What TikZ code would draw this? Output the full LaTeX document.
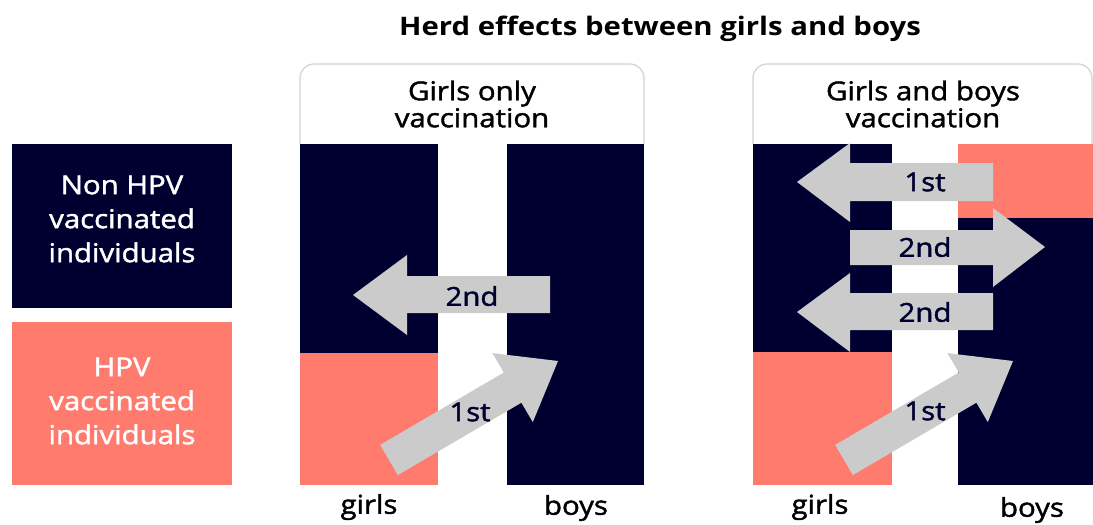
\documentclass[tikz,border=0pt]{standalone}
\usepackage{fontspec}
\setmainfont{Open Sans}[FakeStretch=1.15]
\newfontfamily\semifont{Open Sans}[FakeStretch=1.13, FakeBold=1.6]
\definecolor{navy}{HTML}{000030}
\definecolor{salmon}{HTML}{FF7B6E}
\definecolor{arrowgray}{HTML}{CBCBCB}
\definecolor{framegray}{HTML}{D2D2D2}
\begin{document}
\begin{tikzpicture}[x=1pt,y=-1pt,
  legendtext/.style={text=white,align=center,font=\semifont\fontsize{26}{34}\selectfont},
  paneltitle/.style={text=black,align=center,font=\semifont\fontsize{26}{27}\selectfont},
  arrowlabel/.style={text=navy,font=\semifont\fontsize{26}{30}\selectfont},
  axislabel/.style={text=black,font=\semifont\fontsize{26}{30}\selectfont},
  bararrow/.style={fill=arrowgray},
  panelframe/.style={draw=framegray,line width=1.2pt,rounded corners=14pt}]
\useasboundingbox (0,0) rectangle (1093,525);
\fill[white] (0,0) rectangle (1093,525);

% title
\node[font=\bfseries\fontsize{25.5}{30}\selectfont] (title) at (660,29) {Herd effects between girls and boys};

% legend
\fill[navy] (12,144) rectangle (232,308);
\fill[salmon] (12,322) rectangle (232,485);
\node[legendtext] (nonhpv) at (122,219) {Non HPV\\vaccinated\\individuals};
\node[legendtext] (hpv) at (122,401) {HPV\\vaccinated\\individuals};

% left panel
\draw[panelframe] (300,144) -- (300,64) -- (644,64) -- (644,144);
\node[paneltitle] (lt) at (472,104) {Girls only\\vaccination};
\fill[navy] (300,144) rectangle (438,353);
\fill[salmon] (300,353) rectangle (438,485);
\fill[navy] (507,144) rectangle (644,485);
\fill[bararrow] (550,276) -- (407,276) -- (407,255) -- (353,295) -- (407,335) -- (407,313) -- (550,313) -- cycle;
\fill[bararrow] (380.2,444.9) -- (503.8,372.5) -- (492.4,353.1) -- (558,361) -- (532.8,422.1) -- (521.4,402.7) -- (397.8,475.1) -- cycle;
\node[arrowlabel] (l2nd) at (472,296) {2nd};
\node[arrowlabel] (l1st) at (470,412) {1st};
\node[axislabel] (lgirls) at (369,507) {girls};
\node[axislabel] (lboys) at (576,508) {boys};

% right panel
\draw[panelframe] (753,144) -- (753,64) -- (1092,64) -- (1092,144);
\node[paneltitle] (rt) at (923,104) {Girls and boys\\vaccination};
\fill[navy] (753,144) rectangle (892,352);
\fill[salmon] (753,352) rectangle (892,485);
\fill[salmon] (958,144) rectangle (1093,218);
\fill[navy] (958,218) rectangle (1093,485);
\fill[bararrow] (993,163) -- (850,163) -- (850,143) -- (797,182) -- (850,222) -- (850,201) -- (993,201) -- cycle;
\fill[bararrow] (850,230) -- (993,230) -- (993,208) -- (1045,247) -- (993,287) -- (993,265) -- (850,265) -- cycle;
\fill[bararrow] (993,293) -- (850,293) -- (850,273) -- (797,312) -- (850,352) -- (850,330) -- (993,330) -- cycle;
\begin{scope}[shift={(455,0)}]
\fill[bararrow] (380.2,444.9) -- (503.8,372.5) -- (492.4,353.1) -- (558,361) -- (532.8,422.1) -- (521.4,402.7) -- (397.8,475.1) -- cycle;
\end{scope}
\node[arrowlabel] (r1st) at (925,182) {1st};
\node[arrowlabel] (r2nda) at (925,247) {2nd};
\node[arrowlabel] (r2ndb) at (925,312) {2nd};
\node[arrowlabel] (r1stb) at (925,411) {1st};
\node[axislabel] (rgirls) at (820,507) {girls};
\node[axislabel] (rboys) at (1032,510) {boys};
\end{tikzpicture}
\end{document}
